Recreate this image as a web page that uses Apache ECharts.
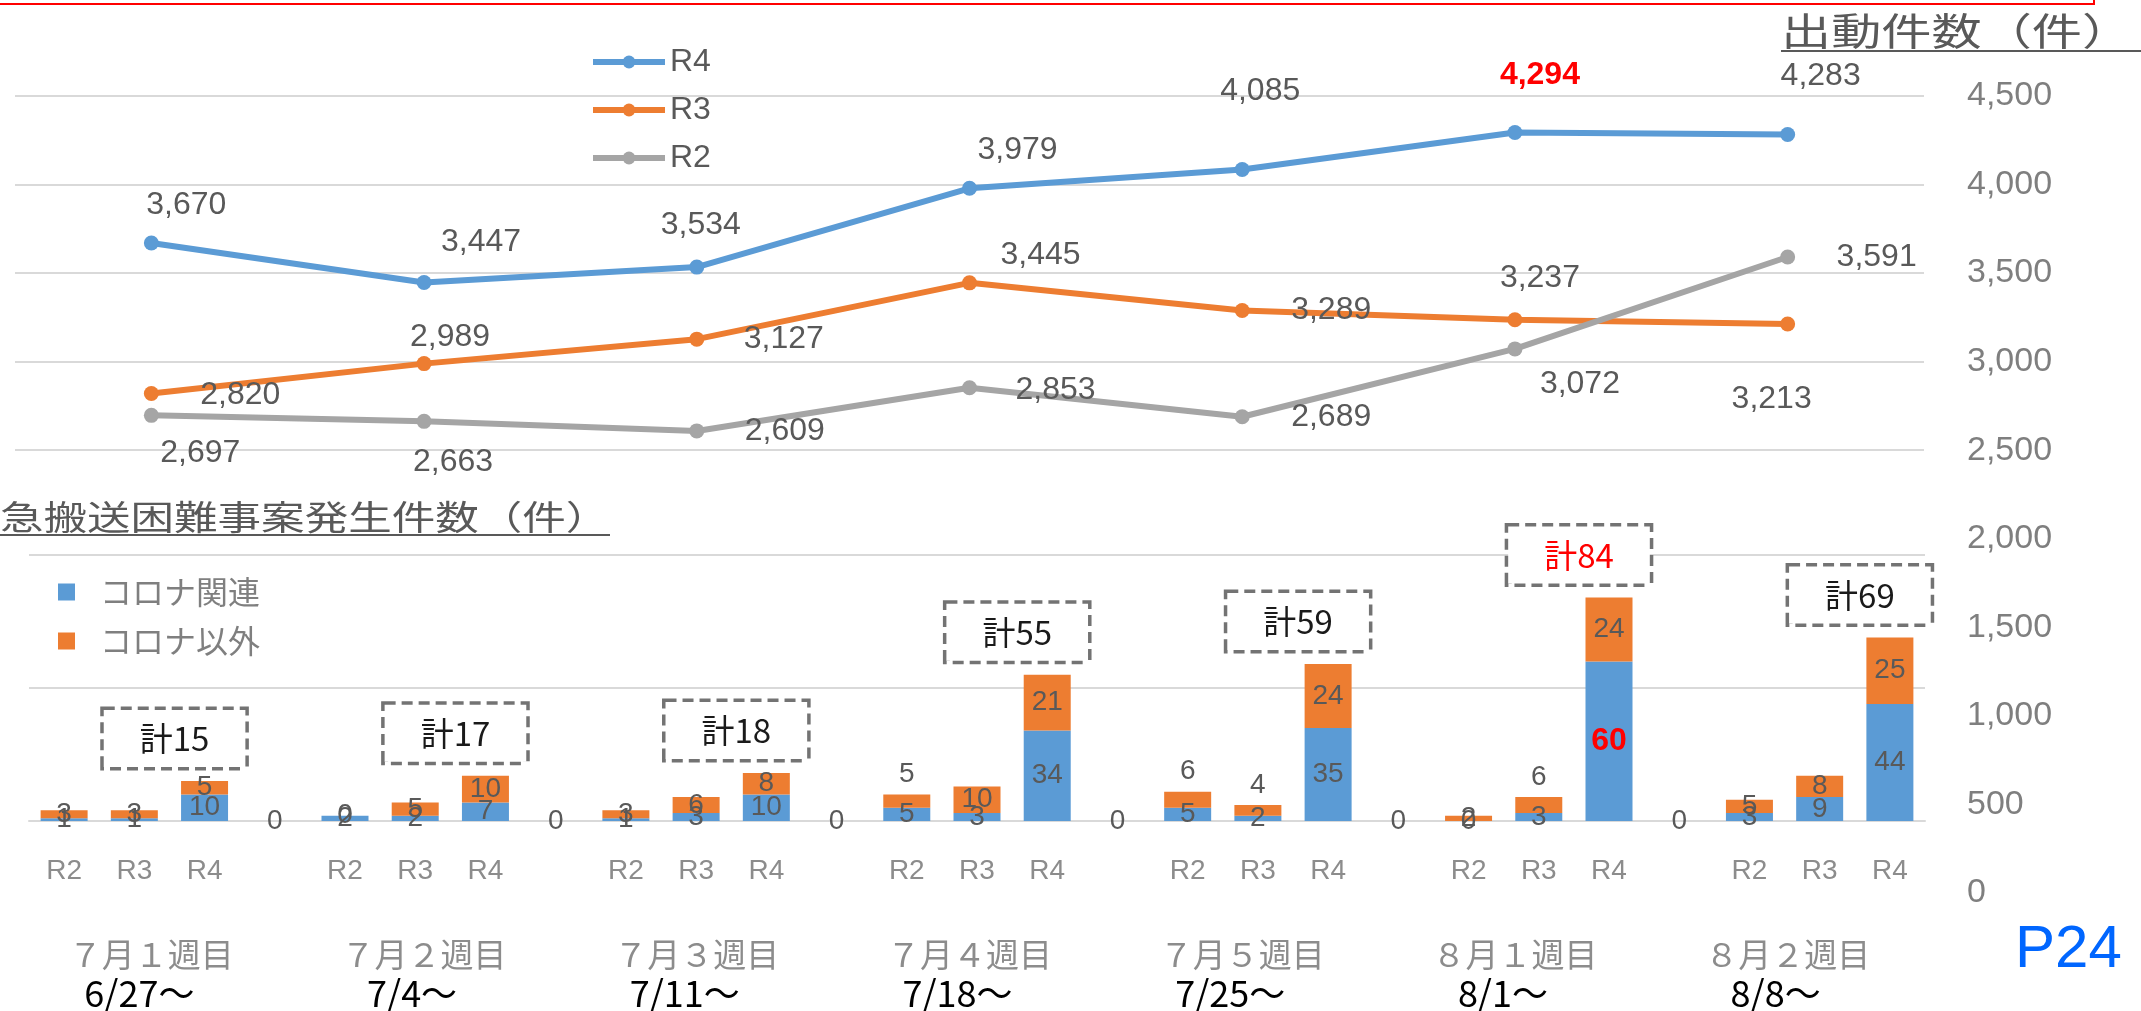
<!DOCTYPE html>
<html>
<head>
<meta charset="utf-8">
<script src="https://cdn.jsdelivr.net/npm/echarts@6/dist/echarts.min.js"></script>
<style>
html, body { margin: 0; padding: 0; background: #fff; }
#chart { width: 2141px; height: 1011px; }
</style>
</head>
<body>
<div id="chart"></div>
<script>
// 週
const weeks = ['７月１週目', '７月２週目', '７月３週目', '７月４週目', '７月５週目', '８月１週目', '８月２週目'];
const weekStart = ['6/27～', '7/4～', '7/11～', '7/18～', '7/25～', '8/1～', '8/8～'];
const years = ['R2', 'R3', 'R4'];

// 出動件数
const dispatchR4 = [3670, 3447, 3534, 3979, 4085, 4294, 4283];
const dispatchR3 = [2820, 2989, 3127, 3445, 3289, 3237, 3213];
const dispatchR2 = [2697, 2663, 2609, 2853, 2689, 3072, 3591];

// 救急搬送困難事案 コロナ関連 / コロナ以外
const covidR2 = [1, 2, 1, 5, 5, 0, 3];
const covidR3 = [1, 2, 3, 3, 2, 3, 9];
const covidR4 = [10, 7, 10, 34, 35, 60, 44];
const otherR2 = [3, 0, 3, 5, 6, 2, 5];
const otherR3 = [3, 5, 6, 10, 4, 6, 8];
const otherR4 = [5, 10, 8, 21, 24, 24, 25];

// ラベル位置の微調整 (点からのずれ)
const r4Nudge = [[35, -38], [57, -40], [4, -42], [48, -38], [18, -78], [25, -57], [33, -58]];
const r3Nudge = [[89, 2], [26, -26], [87, 0], [71, -28], [89, 0], [25, -42], [-16, 75]];
const r2Nudge = [[49, 38], [29, 41], [88, 0], [86, 2], [89, 0], [65, 35], [89, 0]];
// コロナ以外のラベルを棒の上に出すもの [R2,R3,R4]
const otherAbove = [[0, 0, 0], [0, 0, 0], [0, 0, 0], [1, 0, 0], [1, 1, 0], [0, 1, 0], [0, 0, 0]];

const NUM_FONT = "'Liberation Sans', 'Noto Sans CJK JP', sans-serif";
const JP_FONT = "'Noto Sans CJK JP', sans-serif";
const RED = '#ff0000';

const peak = dispatchR4.indexOf(Math.max(...dispatchR4));

function lineSeries(name, values, nudge, color) {
  return {
    name: name,
    type: 'line',
    xAxisIndex: 0,
    yAxisIndex: 0,
    symbol: 'circle',
    symbolSize: 15,
    lineStyle: { width: 6, color: color },
    itemStyle: { color: color },
    data: values.map((v, i) => ({ value: v, label: { offset: nudge[i] } })),
    label: {
      show: true,
      position: 'inside',
      fontSize: 32,
      fontFamily: NUM_FONT,
      color: '#595959',
      formatter: p => p.value.toLocaleString('en-US')
    },
    z: 5
  };
}

const r4Line = lineSeries('R4', dispatchR4, r4Nudge, '#5b9bd5');
r4Line.data[peak].label.color = RED;
r4Line.data[peak].label.fontWeight = 'bold';

// 棒グラフ用に組み立て
const barCats = [];
const blueData = [];
const orangeData = [];
const totalData = [];
const totalMap = {};
weeks.forEach((w, wi) => {
  const blues = [covidR2[wi], covidR3[wi], covidR4[wi]];
  const oranges = [otherR2[wi], otherR3[wi], otherR4[wi]];
  years.forEach((y, yi) => {
    barCats.push(y);
    const b = { value: blues[yi] };
    if (yi === 2 && wi === peak) b.label = { color: RED, fontWeight: 'bold', fontSize: 32 };
    blueData.push(b);
    const o = { value: oranges[yi] };
    if (otherAbove[wi][yi]) o.label = { position: 'top', distance: 6 };
    orangeData.push(o);
    if (yi === 2) {
      totalMap[totalData.length] = blues[2] + oranges[2];
      const t = { value: 0 };
      if (wi === peak) t.label = { color: RED };
      totalData.push(t);
    } else {
      totalData.push('-');
    }
  });
  if (wi < weeks.length - 1) {
    barCats.push('');
    blueData.push(0);
    orangeData.push('-');
    totalData.push('-');
  }
});

const chart = echarts.init(document.getElementById('chart'));
chart.setOption({
  animation: false,
  backgroundColor: '#fff',
  legend: [
    {
      data: ['R4', 'R3', 'R2'],
      orient: 'vertical',
      left: 585,
      top: 41,
      itemWidth: 72,
      itemHeight: 16,
      itemGap: 16,
      lineStyle: { width: 6 },
      textStyle: { fontSize: 32, lineHeight: 32, color: '#595959', fontFamily: NUM_FONT }
    },
    {
      data: ['コロナ関連', 'コロナ以外'],
      orient: 'vertical',
      left: 53,
      top: 571,
      icon: 'rect',
      itemWidth: 17,
      itemHeight: 17,
      itemGap: 17,
      textStyle: { fontSize: 32, lineHeight: 32, color: '#7f7f7f', fontFamily: JP_FONT, padding: [0, 0, 0, 20] }
    }
  ],
  grid: [
    { left: 15, right: 217, top: 96, bottom: 117 },
    { left: 29, right: 216, top: 555, bottom: 190 }
  ],
  xAxis: [
    {
      gridIndex: 0,
      type: 'category',
      data: weeks,
      boundaryGap: true,
      axisLine: { show: false },
      axisTick: { show: false },
      axisLabel: {
        interval: 0,
        margin: 42,
        formatter: (v, i) => '{w|' + v + '}\n{d|' + weekStart[i] + '}',
        rich: {
          w: { fontSize: 33, lineHeight: 38, color: '#8c8c8c', fontFamily: JP_FONT },
          d: { fontSize: 36, lineHeight: 40, color: '#000', fontFamily: JP_FONT, padding: [0, 24, 0, 0] }
        }
      }
    },
    {
      gridIndex: 1,
      type: 'category',
      data: barCats,
      axisLine: { lineStyle: { color: '#d9d9d9', width: 2 } },
      axisTick: { show: false },
      axisLabel: { interval: 0, margin: 36, fontSize: 28, color: '#8c8c8c', fontFamily: NUM_FONT }
    }
  ],
  yAxis: [
    {
      gridIndex: 0,
      type: 'value',
      position: 'right',
      min: 0,
      max: 4500,
      interval: 500,
      axisLine: { show: false },
      axisTick: { show: false },
      axisLabel: {
        margin: 43,
        fontSize: 34,
        color: '#7f7f7f',
        fontFamily: NUM_FONT,
        formatter: v => v.toLocaleString('en-US')
      },
      splitLine: {
        lineStyle: {
          width: 2,
          color: ['transparent', 'transparent', 'transparent', 'transparent', 'transparent',
                  '#d9d9d9', '#d9d9d9', '#d9d9d9', '#d9d9d9', '#d9d9d9']
        }
      }
    },
    {
      gridIndex: 1,
      type: 'value',
      min: 0,
      max: 100,
      interval: 50,
      axisLine: { show: false },
      axisTick: { show: false },
      axisLabel: { show: false },
      splitLine: { lineStyle: { color: '#d9d9d9', width: 2 } }
    }
  ],
  series: [
    {
      name: 'コロナ関連',
      type: 'bar',
      xAxisIndex: 1,
      yAxisIndex: 1,
      stack: 'hard',
      barWidth: 47,
      itemStyle: { color: '#5b9bd5' },
      data: blueData,
      label: { show: true, position: 'inside', fontSize: 28, color: '#595959', fontFamily: NUM_FONT }
    },
    {
      name: 'コロナ以外',
      type: 'bar',
      xAxisIndex: 1,
      yAxisIndex: 1,
      stack: 'hard',
      barWidth: 47,
      itemStyle: { color: '#ed7d31' },
      data: orangeData,
      label: { show: true, position: 'inside', fontSize: 28, color: '#595959', fontFamily: NUM_FONT }
    },
    {
      name: '計',
      type: 'bar',
      xAxisIndex: 1,
      yAxisIndex: 1,
      stack: 'hard',
      barWidth: 47,
      itemStyle: { color: 'transparent' },
      data: totalData,
      label: {
        show: true,
        position: 'top',
        distance: 14,
        offset: [-30, 0],
        formatter: p => '計' + totalMap[p.dataIndex],
        fontSize: 33,
        lineHeight: 33,
        color: '#1a1a1a',
        fontFamily: JP_FONT,
        backgroundColor: '#fff',
        borderColor: '#737373',
        borderWidth: 3.5,
        borderType: [11, 6],
        padding: [12, 36]
      }
    },
    r4Line,
    lineSeries('R3', dispatchR3, r3Nudge, '#ed7d31'),
    lineSeries('R2', dispatchR2, r2Nudge, '#a5a5a5')
  ],
  graphic: [
    {
      type: 'rect',
      shape: { x: -10, y: -30, width: 2104, height: 34 },
      style: { fill: 'none', stroke: '#ff0000', lineWidth: 2 }
    },
    {
      type: 'text',
      x: 1781,
      y: 31,
      scaleX: 1.32,
      style: { text: '出動件数（件）', fontSize: 38, fontFamily: JP_FONT, fill: '#595959', verticalAlign: 'middle' }
    },
    {
      type: 'line',
      shape: { x1: 1781, y1: 51, x2: 2141, y2: 51 },
      style: { stroke: '#595959', lineWidth: 2 }
    },
    {
      type: 'text',
      x: 0,
      y: 517,
      scaleX: 1.28,
      style: { text: '急搬送困難事案発生件数（件）', fontSize: 34, fontFamily: JP_FONT, fill: '#595959', verticalAlign: 'middle' }
    },
    {
      type: 'line',
      shape: { x1: 0, y1: 535, x2: 610, y2: 535 },
      style: { stroke: '#595959', lineWidth: 2 }
    },
    {
      type: 'text',
      x: 2015,
      y: 950,
      style: { text: 'P24', fontSize: 60, fontFamily: NUM_FONT, fill: '#0066ff', verticalAlign: 'middle' }
    }
  ]
});
</script>
</body>
</html>
